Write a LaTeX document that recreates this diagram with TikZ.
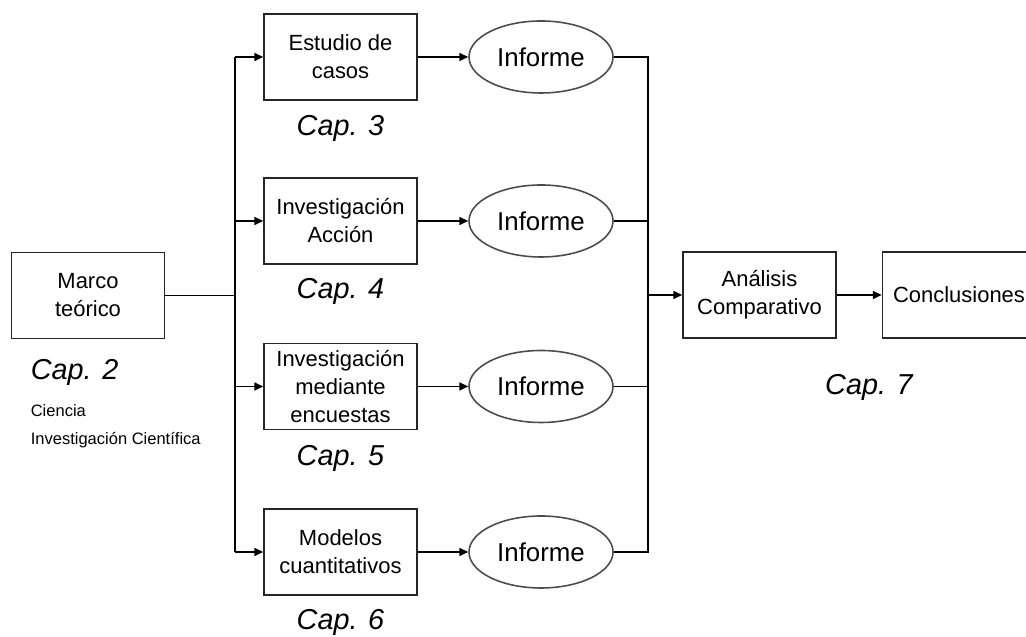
\documentclass[tikz,border=0pt]{standalone}
\usepackage{fontspec}
\setmainfont{Liberation Sans}
\usetikzlibrary{arrows.meta,shapes.geometric}

\newcommand*{\xsplit}{4.70}
\newcommand*{\xjoin}{12.96}

\begin{document}
\begin{tikzpicture}
[
	box/.style={rectangle,draw=black!85,minimum width=3.06cm,minimum height=1.72cm,align=center,inner sep=1pt,font=\fontsize{12.5}{15.9}\selectfont},
	report/.style={ellipse,draw=black!70,minimum width=2.88cm,minimum height=1.44cm,inner sep=0pt,font=\fontsize{14.7}{17}\selectfont},
	chapter/.style={font=\fontsize{16.4}{19}\selectfont\itshape},
	note/.style={anchor=west,inner sep=0pt,font=\fontsize{9.4}{11}\selectfont},
	>={Triangle[length=5pt,width=4.5pt]},
	line width=0.9pt
]

	\useasboundingbox (0,0) rectangle (20.52,12.74);

	% marco teorico
	\node[box] at (1.76,6.83) (marco) {Marco\\teórico};
	\node[chapter,anchor=west,inner sep=0pt] at (0.60,5.30) (cap2) {Cap. 2};
	\node[note] at (0.60,4.52) (ciencia) {Ciencia};
	\node[note] at (0.60,3.94) (invcien) {Investigación Científica};

	% methods
	\node[box] at (6.81,11.60) (casos) {Estudio de\\casos};
	\node[box] at (6.81,8.32) (accion) {Investigación\\Acción};
	\node[box] at (6.81,5.01) (encuestas) {Investigación\\mediante\\encuestas};
	\node[box] at (6.81,1.70) (modelos) {Modelos\\cuantitativos};

	\node[chapter] at (6.81,10.18) (cap3) {Cap. 3};
	\node[chapter] at (6.81,6.92) (cap4) {Cap. 4};
	\node[chapter] at (6.81,3.58) (cap5) {Cap. 5};
	\node[chapter] at (6.81,0.30) (cap6) {Cap. 6};

	% reports
	\node[report] at (10.82,11.60) (inf1) {Informe};
	\node[report] at (10.82,8.32) (inf2) {Informe};
	\node[report] at (10.82,5.01) (inf3) {Informe};
	\node[report] at (10.82,1.70) (inf4) {Informe};

	% comparison
	\node[box] at (15.19,6.84) (analisis) {Análisis\\Comparativo};
	\node[box] at (19.18,6.84) (concl) {Conclusiones};
	\node[chapter] at (17.38,5.00) (cap7) {Cap. 7};

	\coordinate (split) at (\xsplit,6.83);
	\coordinate (join) at (\xjoin,6.84);

	% fan out
	\draw (marco) -- (split);
	\draw (casos.west -| split) -- (modelos.west -| split);
	\draw[->] (casos.west -| split) -- (casos);
	\draw[->] (accion.west -| split) -- (accion);
	\draw[->] (encuestas.west -| split) -- (encuestas);
	\draw[->] (modelos.west -| split) -- (modelos);

	\draw[->] (casos) -- (inf1);
	\draw[->] (accion) -- (inf2);
	\draw[->] (encuestas) -- (inf3);
	\draw[->] (modelos) -- (inf4);

	% fan in
	\draw (inf1.east) -- (inf1.east -| join) -- (inf4.east -| join) -- (inf4.east);
	\draw (inf2.east) -- (inf2.east -| join);
	\draw (inf3.east) -- (inf3.east -| join);
	\draw[->] (join) -- (analisis);
	\draw[->] (analisis) -- (concl);

\end{tikzpicture}
\end{document}
